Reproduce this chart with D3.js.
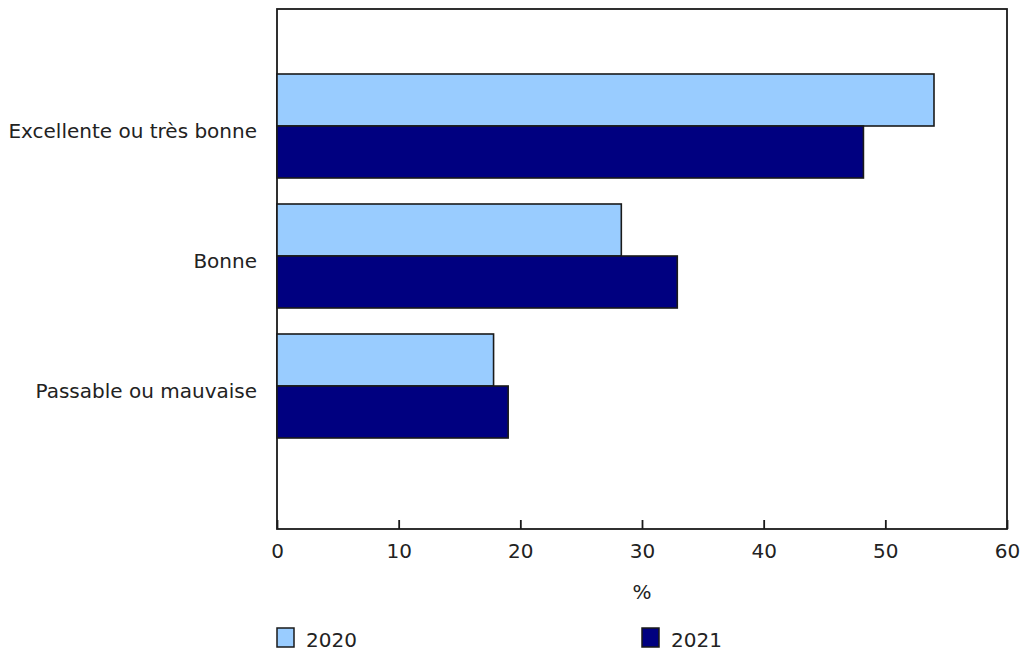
<!DOCTYPE html>
<html>
<head>
<meta charset="utf-8">
<title>Santé perçue</title>
<script src="https://cdn.jsdelivr.net/npm/d3@7"></script>
<style>
    body { margin: 0; background: #fff; }
    text { font-family: Verdana, "DejaVu Sans", sans-serif; font-size: 20px; fill: #222; }
</style>
</head>
<body>
<script>
    var categories = ["Excellente ou très bonne", "Bonne", "Passable ou mauvaise"];
    var years = ["2020", "2021"];
    var values2020 = [54.0, 28.3, 17.8];
    var values2021 = [48.2, 32.9, 19.0];
    var xTicks = [0, 10, 20, 30, 40, 50, 60];
    var colors = ["#99ccff", "#000080"];

    var w = 1021, h = 652;
    var plotLeft = 277, plotRight = 1007, plotTop = 9, plotBottom = 529;

    var series = [values2020, values2021];

    var svg = d3.select("body").append("svg")
        .attr("width", w)
        .attr("height", h);

    var x = d3.scaleLinear().domain([0, 60]).range([plotLeft, plotRight]);

    // category bands, the chart leaves extra room under the last one
    var y = d3.scaleBand()
        .domain(categories)
        .range([61, 451])
        .paddingInner(0.2)
        .paddingOuter(0.1);

    var ySub = d3.scaleBand()
        .domain(years)
        .range([0, y.bandwidth()]);

    // frame
    svg.append("rect")
        .attr("x", plotLeft)
        .attr("y", plotTop)
        .attr("width", plotRight - plotLeft)
        .attr("height", plotBottom - plotTop)
        .attr("fill", "none")
        .attr("stroke", "#1a1a1a")
        .attr("stroke-width", 1.8);

    var groups = svg.selectAll("g.cat")
        .data(categories)
        .enter()
        .append("g")
        .attr("class", "cat")
        .attr("transform", function(d) { return "translate(0," + y(d) + ")"; });

    groups.selectAll("rect")
        .data(function(d, i) {
            return years.map(function(yr, j) { return { year: yr, value: series[j][i], k: j }; });
        })
        .enter()
        .append("rect")
        .attr("x", x(0))
        .attr("y", function(d) { return ySub(d.year); })
        .attr("width", function(d) { return x(d.value) - x(0); })
        .attr("height", ySub.bandwidth())
        .attr("fill", function(d) { return colors[d.k]; })
        .attr("stroke", "#1a1a1a")
        .attr("stroke-width", 1.6);

    // category labels
    svg.selectAll("text.cat")
        .data(categories)
        .enter()
        .append("text")
        .attr("class", "cat")
        .attr("x", plotLeft - 20)
        .attr("y", function(d) { return y(d) + y.bandwidth() / 2; })
        .attr("dy", "0.6em")
        .attr("text-anchor", "end")
        .text(function(d) { return d; });

    // x axis
    var xAxis = d3.axisBottom(x)
        .tickValues(xTicks)
        .tickSize(-9)
        .tickPadding(15)
        .tickFormat(d3.format("d"));

    var gx = svg.append("g")
        .attr("transform", "translate(0," + plotBottom + ")")
        .call(xAxis);
    gx.select(".domain").remove();
    gx.selectAll("line").attr("stroke", "#1a1a1a").attr("stroke-width", 1.8);
    gx.selectAll("text")
        .style("font-family", "Verdana, 'DejaVu Sans', sans-serif")
        .style("font-size", "20px")
        .attr("fill", "#222");

    svg.append("text")
        .attr("x", (plotLeft + plotRight) / 2)
        .attr("y", 599)
        .attr("text-anchor", "middle")
        .text("%");

    // legend
    var legendX = [277, 642];
    var legend = svg.selectAll("g.legend")
        .data(years)
        .enter()
        .append("g")
        .attr("class", "legend")
        .attr("transform", function(d, i) { return "translate(" + legendX[i] + ",628)"; });

    legend.append("rect")
        .attr("width", 17)
        .attr("height", 19)
        .attr("fill", function(d, i) { return colors[i]; })
        .attr("stroke", "#1a1a1a")
        .attr("stroke-width", 1.5);

    legend.append("text")
        .attr("x", 29)
        .attr("y", 19)
        .text(function(d) { return d; });
</script>
</body>
</html>
